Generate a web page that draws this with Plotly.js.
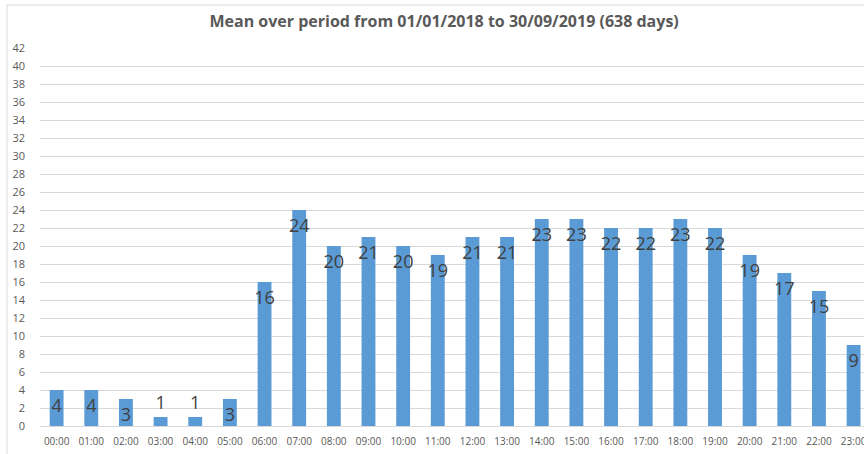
<!DOCTYPE html>
<html>
<head>
<meta charset="utf-8">
<script src="https://cdn.plot.ly/plotly-3.0.1.min.js"></script>
<style>html,body{margin:0;padding:0;background:#fff;}#chart{width:864px;height:454px;}</style>
</head>
<body>
<div id="chart"></div>
<script>
var hours = ["00:00","01:00","02:00","03:00","04:00","05:00","06:00","07:00","08:00","09:00","10:00","11:00",
             "12:00","13:00","14:00","15:00","16:00","17:00","18:00","19:00","20:00","21:00","22:00","23:00"];
var meanValues = [4,4,3,1,1,3,16,24,20,21,20,19,21,21,23,23,22,22,23,22,19,17,15,9];
var yTicks = [0,2,4,6,8,10,12,14,16,18,20,22,24,26,28,30,32,34,36,38,40,42];
var chartTitle = "Mean over period from 01/01/2018 to 30/09/2019 (638 days)";

var FONT = "Open Sans, Liberation Sans, sans-serif";
var xIdx = hours.map(function(_, i){ return i; });

var trace = {
  type: "bar",
  x: xIdx,
  y: meanValues,
  marker: {color: "#5B9BD5"},
  text: meanValues.map(String),
  textposition: meanValues.map(function(v){ return v < 2 ? "outside" : "inside"; }),
  insidetextanchor: "end",
  constraintext: "none",
  textangle: 0,
  insidetextfont: {family: FONT, size: 18, color: "#404040"},
  outsidetextfont: {family: FONT, size: 18, color: "#404040"},
  cliponaxis: false,
  hoverinfo: "x+y"
};

var layout = {
  width: 864, height: 454,
  margin: {l: 40, r: 0, t: 48, b: 28, pad: 0},
  paper_bgcolor: "#ffffff",
  plot_bgcolor: "#ffffff",
  showlegend: false,
  bargap: 0.6,
  title: {text: "<b>" + chartTitle + "</b>", font: {family: FONT, size: 16, color: "#595959"},
          xref: "container", x: 0.514, xanchor: "center", yref: "container", y: 0.952, yanchor: "middle"},
  xaxis: {
    range: [-0.48, 23.3],
    tickmode: "array", tickvals: xIdx, ticktext: hours,
    tickfont: {family: FONT, size: 10, color: "#595959"},
    showgrid: false, zeroline: false, showline: false, ticks: "",
    ticklabelstandoff: 8, ticklabeloverflow: "allow", fixedrange: true
  },
  yaxis: {
    range: [0, 42],
    tickmode: "array", tickvals: yTicks,
    tickfont: {family: FONT, size: 11, color: "#595959"},
    showgrid: true, gridcolor: "#d9d9d9", gridwidth: 1,
    zeroline: true, zerolinecolor: "#d9d9d9", zerolinewidth: 1,
    showline: false, ticks: "", ticklabelstandoff: 14, fixedrange: true
  },
  shapes: [{
    type: "rect", xref: "paper", yref: "paper",
    x0: -33/824, x1: 1.05, y0: -0.2, y1: 1 + 43/378,
    line: {color: "#d9d9d9", width: 1}, fillcolor: "rgba(0,0,0,0)", layer: "below"
  }]
};

Plotly.newPlot("chart", [trace], layout, {displayModeBar: false, staticPlot: true});
</script>
</body>
</html>
